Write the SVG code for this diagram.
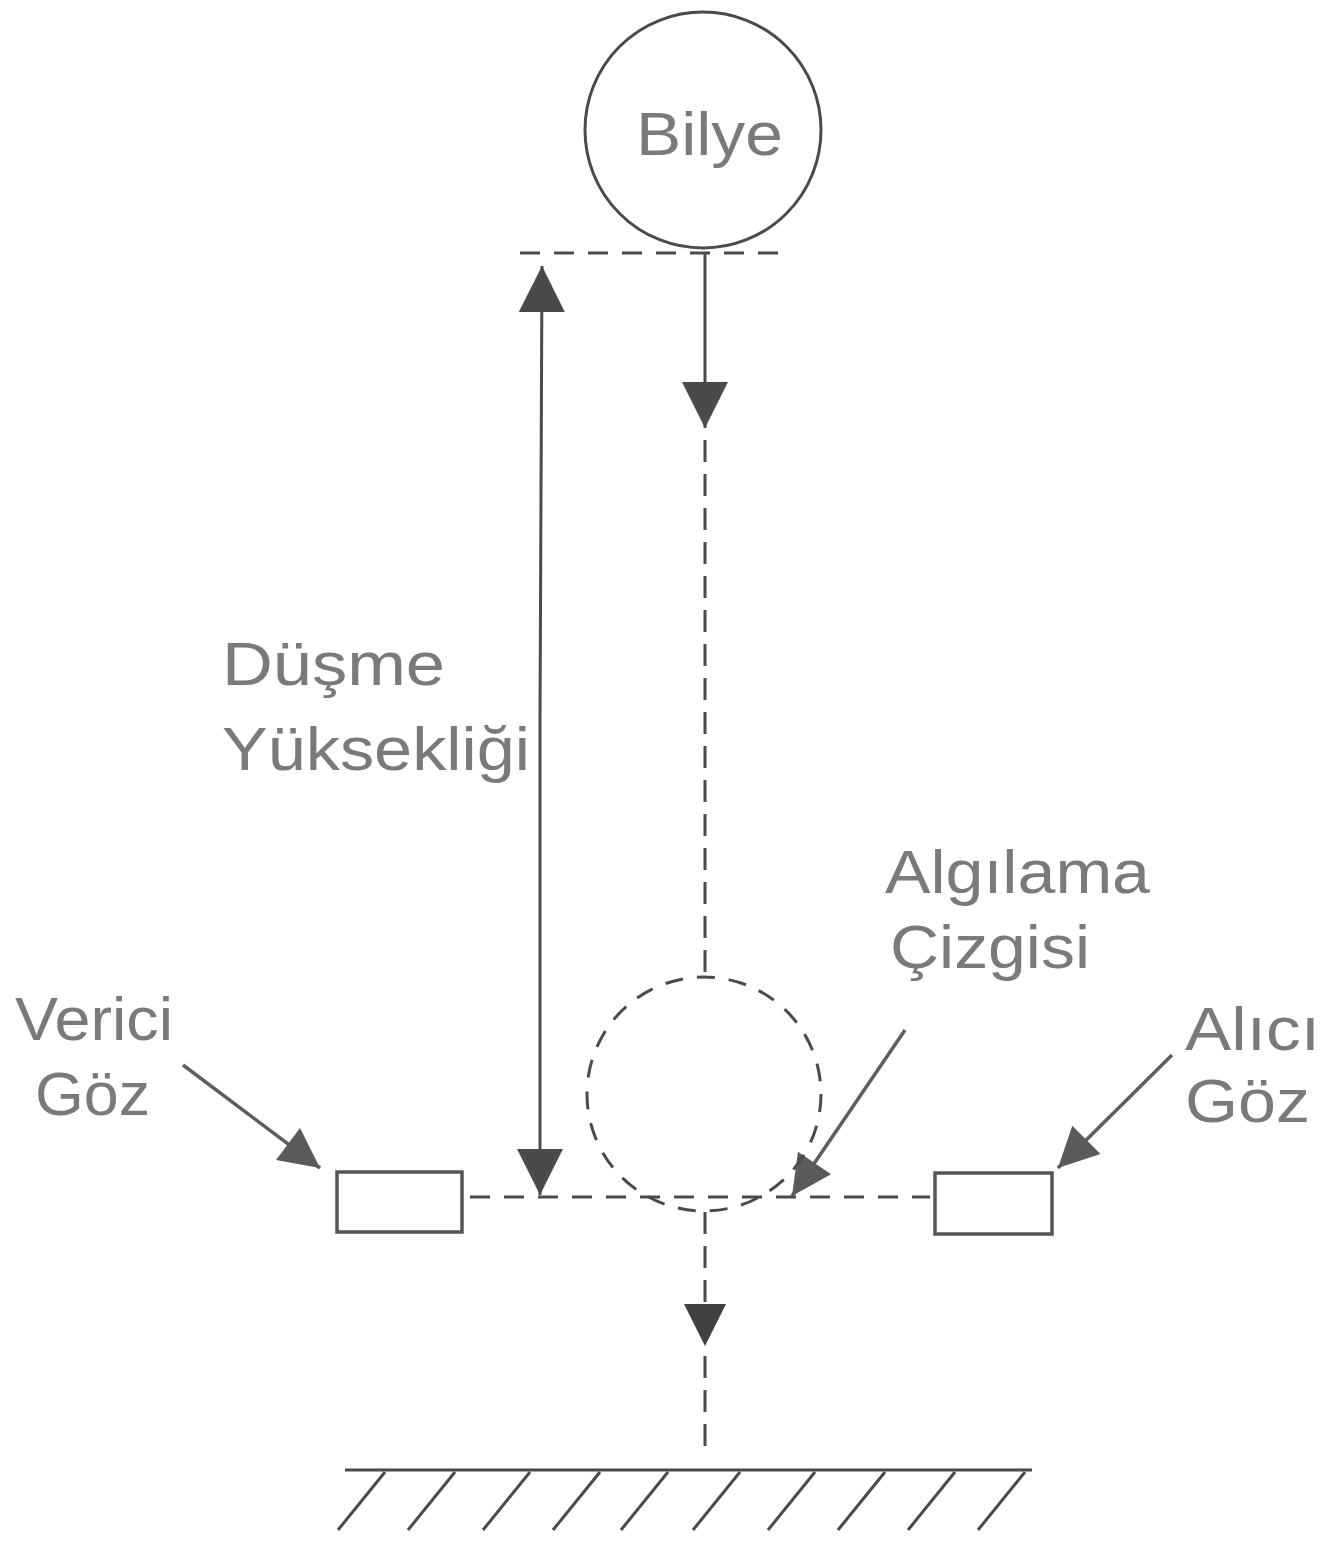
<svg xmlns="http://www.w3.org/2000/svg" width="1333" height="1543" viewBox="0 0 1333 1543">
<style>
.ln{stroke:#4a4a4a;stroke-width:3;fill:none}
.dash{stroke:#4a4a4a;stroke-width:3;fill:none;stroke-dasharray:20 14}
.vdash{stroke:#4a4a4a;stroke-width:3;fill:none;stroke-dasharray:22 12}
.ptr{stroke:#5e5e5e;stroke-width:3.5;fill:none}
.lbl{font-family:"Liberation Sans",Arial,sans-serif;fill:#7a7a7a;font-size:62px}
.box{fill:#fff;stroke:#555;stroke-width:3.5}
</style>
<defs>
<marker id="ah" markerUnits="userSpaceOnUse" viewBox="0 0 10 10" refX="10" refY="5" markerWidth="50" markerHeight="46" orient="auto">
<path d="M0,0 L10,5 L0,10 z" fill="#4a4a4a"/>
</marker>
<marker id="ah2" markerUnits="userSpaceOnUse" viewBox="0 0 10 10" refX="10" refY="5" markerWidth="46" markerHeight="40" orient="auto">
<path d="M0,0 L10,5 L0,10 z" fill="#5a5a5a"/>
</marker>
<marker id="ah3" markerUnits="userSpaceOnUse" viewBox="0 0 10 10" refX="10" refY="5" markerWidth="48" markerHeight="42" orient="auto">
<path d="M0,0 L10,5 L0,10 z" fill="#404040"/>
</marker>
</defs>
<rect width="1333" height="1543" fill="#ffffff"/>

<g id="connectors">
<line class="dash" x1="520" y1="253" x2="780" y2="253"/>
<line class="ln" x1="540" y1="720" x2="542" y2="266" marker-end="url(#ah)"/>
<line class="ln" x1="540" y1="720" x2="540" y2="1195" marker-end="url(#ah)"/>
<line class="ln" x1="705" y1="253" x2="705" y2="428" marker-end="url(#ah)"/>
<line class="vdash" x1="705" y1="440" x2="705" y2="978"/>
<line class="dash" x1="470" y1="1197" x2="930" y2="1197"/>
<line class="vdash" x1="705" y1="1212" x2="705" y2="1346" marker-end="url(#ah3)"/>
<line class="vdash" x1="705" y1="1356" x2="705" y2="1452"/>
<line class="ptr" x1="183" y1="1065" x2="320" y2="1168" marker-end="url(#ah2)"/>
<line class="ptr" x1="905" y1="1030" x2="792" y2="1196" marker-end="url(#ah2)"/>
<line class="ptr" x1="1172" y1="1055" x2="1058" y2="1168" marker-end="url(#ah2)"/>
</g>

<g id="bilye">
<circle cx="703" cy="130" r="118" fill="#fff" stroke="#4a4a4a" stroke-width="3"/>
<text class="lbl" x="636" y="155" font-size="64" textLength="147" lengthAdjust="spacingAndGlyphs">Bilye</text>
</g>

<g id="bilye-alt">
<circle cx="704" cy="1094" r="117" fill="none" stroke="#4a4a4a" stroke-width="3" stroke-dasharray="18 14"/>
</g>

<g id="dusme-label">
<text class="lbl" x="222" y="685" textLength="223" lengthAdjust="spacingAndGlyphs">Düşme</text>
<text class="lbl" x="222" y="770" textLength="308" lengthAdjust="spacingAndGlyphs">Yüksekliği</text>
</g>

<g id="algilama-label">
<text class="lbl" x="885" y="893" textLength="265" lengthAdjust="spacingAndGlyphs">Algılama</text>
<text class="lbl" x="890" y="968" textLength="200" lengthAdjust="spacingAndGlyphs">Çizgisi</text>
</g>

<g id="verici">
<text class="lbl" x="15" y="1040" textLength="158" lengthAdjust="spacingAndGlyphs">Verici</text>
<text class="lbl" x="35" y="1115" textLength="115" lengthAdjust="spacingAndGlyphs">Göz</text>
<rect class="box" x="337" y="1172" width="125" height="60"/>
</g>

<g id="alici">
<text class="lbl" x="1185" y="1050" textLength="135" lengthAdjust="spacingAndGlyphs">Alıcı</text>
<text class="lbl" x="1185" y="1122" textLength="125" lengthAdjust="spacingAndGlyphs">Göz</text>
<rect class="box" x="935" y="1173" width="117" height="61"/>
</g>

<g id="ground">
<line class="ln" x1="345" y1="1470" x2="1032" y2="1470" stroke-width="2.5"/>
<path class="ln" stroke-width="2.5" d="M385,1472 L338,1530 M455,1472 L408,1530 M530,1472 L483,1530 M600,1472 L553,1530 M668,1472 L621,1530 M740,1472 L693,1530 M815,1472 L768,1530 M885,1472 L838,1530 M955,1472 L908,1530 M1025,1472 L978,1530"/>
</g>
</svg>
